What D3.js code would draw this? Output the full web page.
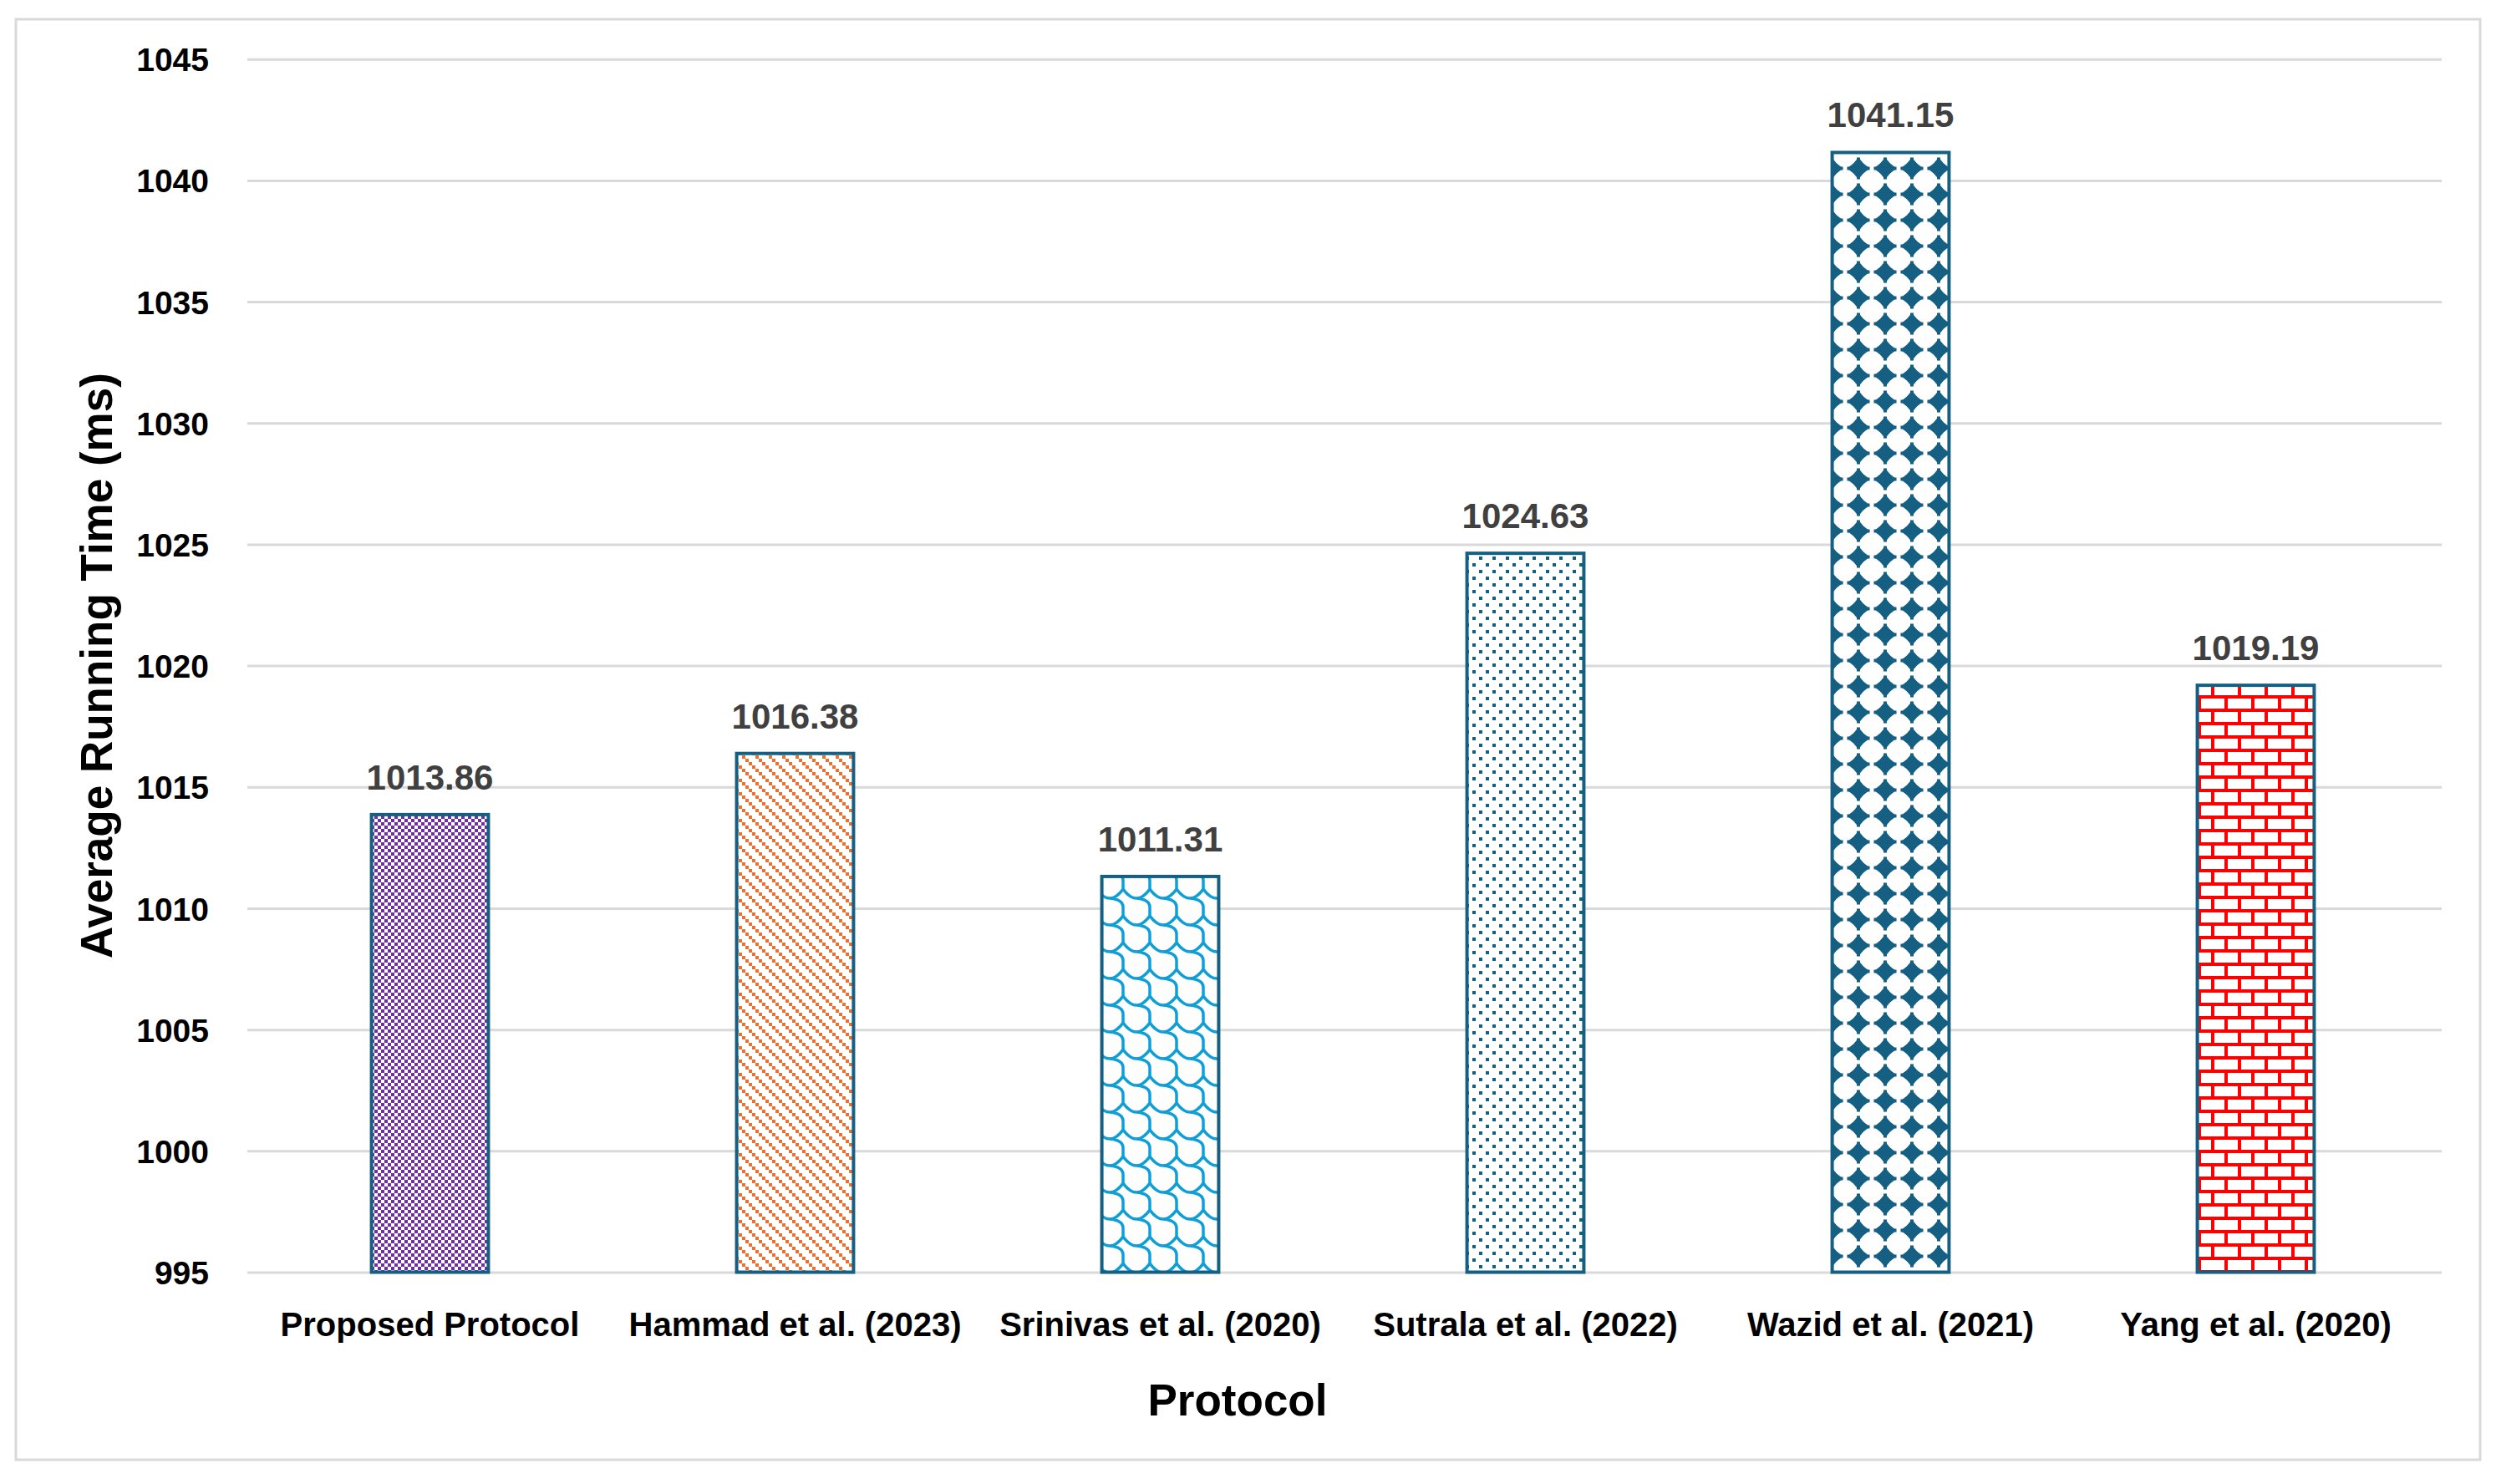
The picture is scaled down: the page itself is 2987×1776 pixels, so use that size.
<!DOCTYPE html>
<html>
<head>
<meta charset="utf-8">
<script src="https://cdn.jsdelivr.net/npm/d3@7"></script>
<style>
  html, body { margin: 0; padding: 0; background: #ffffff; }
  svg { display: block; }
  text { font-family: "Liberation Sans", Arial, sans-serif; font-weight: bold; }
</style>
</head>
<body>
<svg id="chart" width="2987" height="1776"></svg>
<script>
// ---- data ----
const categories = ["Proposed Protocol", "Hammad et al. (2023)", "Srinivas et al. (2020)",
                    "Sutrala et al. (2022)", "Wazid et al. (2021)", "Yang et al. (2020)"];
const values = [1013.86, 1016.38, 1011.31, 1024.63, 1041.15, 1019.19];
const yTicks = [995, 1000, 1005, 1010, 1015, 1020, 1025, 1030, 1035, 1040, 1045];
const patternNames = ["checker", "diag", "scales", "dots", "diamonds", "bricks"];
const yTitle = "Average Running Time (ms)";
const xTitle = "Protocol";

// ---- layout ----
const W = 2987, H = 1776;
const plot = { left: 296, right: 2918, top: 70.7, bottom: 1522.5 };

const svg = d3.select("#chart");
svg.append("rect").attr("x", 0).attr("y", 0).attr("width", W).attr("height", H).attr("fill", "#ffffff");
svg.append("rect").attr("x", 19).attr("y", 23).attr("width", 2968 - 19).attr("height", 1747 - 23)
   .attr("fill", "none").attr("stroke", "#D9D9D9").attr("stroke-width", 3);

// ---- patterns ----
const defs = svg.append("defs");
const BORDER = "#156082";

function pat(id, w, h) {
  const p = defs.append("pattern").attr("id", id).attr("patternUnits", "userSpaceOnUse")
    .attr("width", w).attr("height", h);
  p.append("rect").attr("width", w).attr("height", h).attr("fill", "#ffffff");
  return p;
}
// checkerboard (purple)
{
  const p = pat("checker", 8, 8);
  p.attr("shape-rendering", "crispEdges");
  p.append("rect").attr("x", 0).attr("y", 0).attr("width", 4).attr("height", 4).attr("fill", "#7030A0");
  p.append("rect").attr("x", 4).attr("y", 4).attr("width", 4).attr("height", 4).attr("fill", "#7030A0");
}
// downward diagonal (orange)
{
  const p = pat("diag", 16, 16);
  p.attr("shape-rendering", "crispEdges");
  [0, 4, 8, 12].forEach(k => {
    p.append("rect").attr("x", k).attr("y", k).attr("width", 4).attr("height", 4).attr("fill", "#E97132");
  });
}
// scales (blue)
{
  const p = pat("scales", 32, 32);
  const g = p.append("g").attr("fill", "none").attr("stroke", "#0F9ED5").attr("stroke-width", 3.5);
  for (const dx of [-32, 0, 32]) for (const dy of [-32, 0, 32]) {
    g.append("path").attr("transform", `translate(${dx},${dy})`)
      .attr("d", "M0,8 Q16,30 32,8");
    g.append("path").attr("transform", `translate(${dx},${dy})`)
      .attr("d", "M17,19 C26,20 32,23 32,30 L32,40");
  }
}
// dots (dark teal)
{
  const p = pat("dots", 16, 16);
  p.attr("shape-rendering", "crispEdges");
  p.append("rect").attr("x", 2).attr("y", 2).attr("width", 4).attr("height", 4).attr("fill", BORDER);
  p.append("rect").attr("x", 10).attr("y", 10).attr("width", 4).attr("height", 4).attr("fill", BORDER);
}
// diamonds (dark teal, four-point sparkle shapes)
{
  const p = pat("diamonds", 32, 31);
  const cx = 16, cy = 15.5, a = 13.5, b = 13, c = 6;
  p.append("polygon").attr("points", [
      [cx, cy - b], [cx + c, cy - c], [cx + a, cy], [cx + c, cy + c],
      [cx, cy + b], [cx - c, cy + c], [cx - a, cy], [cx - c, cy - c]
    ].map(q => q.join(",")).join(" "))
    .attr("fill", BORDER);
  p.append("rect").attr("x", cx - 2).attr("y", cy - b).attr("width", 4).attr("height", 2 * b).attr("fill", BORDER);
  p.append("rect").attr("x", cx - a).attr("y", cy - 2).attr("width", 2 * a).attr("height", 4).attr("fill", BORDER);
}
// bricks (red)
{
  const p = pat("bricks", 32, 32);
  p.attr("shape-rendering", "crispEdges");
  const red = "#FF0000";
  p.append("rect").attr("x", 0).attr("y", 0).attr("width", 32).attr("height", 4).attr("fill", red);
  p.append("rect").attr("x", 0).attr("y", 16).attr("width", 32).attr("height", 4).attr("fill", red);
  p.append("rect").attr("x", 6).attr("y", 4).attr("width", 4).attr("height", 12).attr("fill", red);
  p.append("rect").attr("x", 22).attr("y", 20).attr("width", 4).attr("height", 12).attr("fill", red);
}

// ---- scales ----
const x = d3.scaleBand().domain(categories).range([plot.left, plot.right]).padding(0);
const y = d3.scaleLinear().domain([995, 1045]).range([plot.bottom, plot.top]);
const barW = x.bandwidth() * 0.32;

// ---- y axis & gridlines ----
const yAxis = svg.append("g").attr("transform", `translate(${plot.left},0)`)
  .call(d3.axisLeft(y).tickValues(yTicks).tickFormat(d3.format("d"))
        .tickSize(-(plot.right - plot.left + 4)).tickPadding(46));
yAxis.select(".domain").remove();
yAxis.selectAll(".tick line").attr("stroke", "#D9D9D9").attr("stroke-width", 3);
yAxis.selectAll(".tick text").attr("fill", "#000000").attr("font-size", 39)
  .attr("font-family", "'Liberation Sans', Arial, sans-serif").attr("font-weight", "bold")
  .attr("dy", "0.36em");

// ---- x axis ----
const xAxis = svg.append("g").attr("transform", `translate(0,${plot.bottom})`)
  .call(d3.axisBottom(x).tickSize(0).tickPadding(0));
xAxis.select(".domain").remove();
xAxis.selectAll(".tick text").attr("fill", "#000000").attr("font-size", 40)
  .attr("font-family", "'Liberation Sans', Arial, sans-serif").attr("font-weight", "bold")
  .attr("y", 76).attr("dy", null);

// ---- bars ----
const data = categories.map((c, i) => ({ c, v: values[i], p: patternNames[i] }));
svg.append("g").selectAll("rect").data(data).join("rect")
  .attr("x", d => x(d.c) + x.bandwidth() / 2 - barW / 2)
  .attr("y", d => y(d.v))
  .attr("width", barW)
  .attr("height", d => y(995) - y(d.v))
  .attr("fill", d => `url(#${d.p})`)
  .attr("stroke", BORDER).attr("stroke-width", 4);

// ---- data labels ----
svg.append("g").selectAll("text").data(data).join("text")
  .attr("x", d => x(d.c) + x.bandwidth() / 2)
  .attr("y", d => y(d.v) - 30)
  .attr("text-anchor", "middle")
  .attr("font-size", 42).attr("fill", "#404040")
  .text(d => d.v.toFixed(2));

// ---- axis titles ----
svg.append("text").attr("x", 1481).attr("y", 1694).attr("text-anchor", "middle")
  .attr("font-size", 53).attr("fill", "#000000").text(xTitle);
svg.append("text").attr("transform", `translate(134,${(plot.top + plot.bottom) / 2}) rotate(-90)`)
  .attr("text-anchor", "middle").attr("font-size", 53).attr("fill", "#000000").text(yTitle);
</script>
</body>
</html>
